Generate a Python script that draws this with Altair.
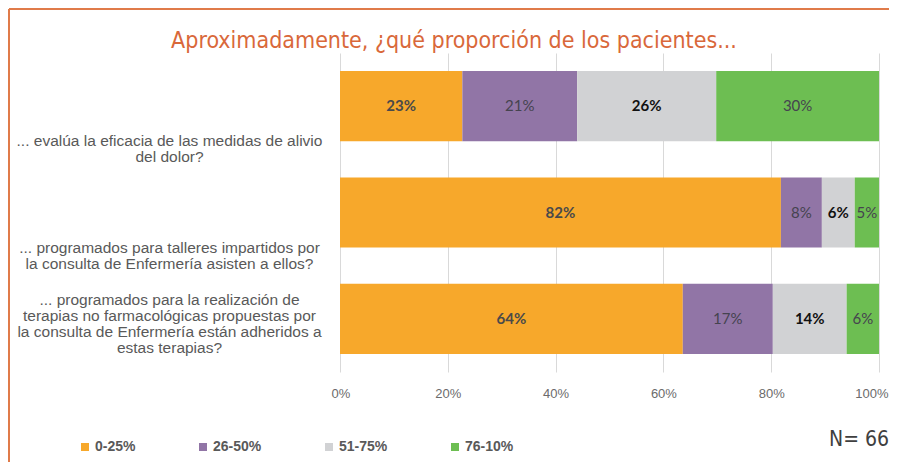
import altair as alt
import pandas as pd

title_text = ["Aproximadamente, ¿qué proporción de los pacientes..."]
questions = [
    "... evalúa la eficacia de las medidas de alivio|del dolor?",
    "... programados para talleres impartidos por|la consulta de Enfermería asisten a ellos?",
    "... programados para la realización de|terapias no farmacológicas propuestas por|la consulta de Enfermería están adheridos a|estas terapias?",
]
categories = ["0-25%", "26-50%", "51-75%", "76-10%"]
colors = ["#F7A82B", "#9175A6", "#D1D2D4", "#6DBE52"]
q1_values = [22.7, 21.3, 25.8, 30.2]
q2_values = [81.8, 7.6, 6.1, 4.5]
q3_values = [63.6, 16.7, 13.7, 6.0]
x_ticks = [0, 20, 40, 60, 80, 100]
n_note = ["N= 66"]

rows = []
for q, vals in zip(questions, [q1_values, q2_values, q3_values]):
    for i, (c, v) in enumerate(zip(categories, vals)):
        rows.append({"question": q, "category": c, "order": i, "value": v})
df = pd.DataFrame(rows)
note_df = pd.DataFrame({"note": n_note})
title_df = pd.DataFrame({"title": title_text})

y_enc = alt.Y(
    "question:N",
    sort=questions,
    scale=alt.Scale(paddingInner=0.34, paddingOuter=0.17),
    axis=alt.Axis(
        title=None,
        labelExpr="split(datum.label, '|')",
        labelAlign="center",
        labelBaseline="middle",
        labelPadding=171,
        labelLimit=420,
        labelFont="Liberation Sans",
        labelFontSize=15.5,
        labelLineHeight=16,
        labelColor="#595959",
        ticks=False,
        domain=False,
        labelOffset={
            "condition": {"test": "indexof(datum.value, 'terapias') >= 0", "value": -19},
            "value": 35,
        },
    ),
)

bars = alt.Chart(df).mark_bar().encode(
    y=y_enc,
    x=alt.X(
        "value:Q",
        stack="zero",
        scale=alt.Scale(domain=[0, 100], nice=False),
        axis=alt.Axis(
            title=None,
            values=x_ticks,
            labelExpr="datum.value + '%'",
            labelFlush=True,
            labelFlushOffset=9,
            grid=True,
            gridColor="#D9D9D9",
            domain=False,
            ticks=False,
            labelPadding=15,
            labelFont="Liberation Sans",
            labelFontSize=13,
            labelColor="#6B6B6B",
        ),
    ),
    color=alt.Color(
        "category:N",
        scale=alt.Scale(domain=categories, range=colors),
        legend=alt.Legend(
            title=None,
            orient="none",
            legendX=-262,
            legendY=387,
            direction="horizontal",
            symbolType="square",
            symbolSize=64,
            symbolStrokeWidth=0,
            labelFont="Liberation Sans",
            labelFontWeight="bold",
            labelFontSize=14,
            labelColor="#595959",
            labelOffset=3,
            columnPadding=60,
        ),
    ),
    order=alt.Order("order:Q"),
)

text_base = (
    alt.Chart(df)
    .transform_stack(
        stack="value",
        groupby=["question"],
        as_=["x0", "x1"],
        sort=[alt.SortField("order")],
    )
    .transform_calculate(mid="(datum.x0 + datum.x1) / 2", label="round(datum.value) + '%'")
)

ytext = alt.Y("question:N", sort=questions)

text_orange = (
    text_base.transform_filter("datum.category == '0-25%'")
    .mark_text(font="Lato", fontSize=15, fontWeight="bold", color="#4A4A4A")
    .encode(y=ytext, x="mid:Q", text="label:N")
)
text_normal = (
    text_base.transform_filter("datum.category == '26-50%' || datum.category == '76-10%'")
    .mark_text(font="Lato", fontSize=15, color="#45434F")
    .encode(y=ytext, x="mid:Q", text="label:N")
)
text_bold = (
    text_base.transform_filter("datum.category == '51-75%'")
    .mark_text(font="Lato", fontSize=15, fontWeight="bold", color="#111111")
    .encode(y=ytext, x="mid:Q", text="label:N")
)

title_mark = (
    alt.Chart(title_df)
    .mark_text(font="DejaVu Sans Condensed", fontSize=23, color="#D9683A", align="center", baseline="middle")
    .encode(text="title:N", x=alt.value(114), y=alt.value(-12))
)

note = (
    alt.Chart(note_df)
    .mark_text(font="DejaVu Sans Condensed", fontSize=21, color="#404040", align="right", baseline="middle")
    .encode(text="note:N", x=alt.value(549), y=alt.value(387))
)

frame_top = (
    alt.Chart(note_df)
    .mark_rule(color="#E07B4A", strokeWidth=2)
    .encode(x=alt.value(-331), x2=alt.value(700), y=alt.value(-44))
)
frame_left = (
    alt.Chart(note_df)
    .mark_rule(color="#E07B4A", strokeWidth=2)
    .encode(x=alt.value(-331), y=alt.value(-44), y2=alt.value(500))
)

chart = (
    alt.layer(bars, text_orange, text_normal, text_bold, title_mark, note, frame_top, frame_left)
    .properties(
        width=539,
        height=319,
        autosize=alt.AutoSizeParams(type="none"),
        padding={"left": 332, "top": 45, "right": 10, "bottom": 90},
    )
    .configure_view(stroke=None)
)

chart.save("out.html", embed_options={"renderer": "svg", "actions": False})
